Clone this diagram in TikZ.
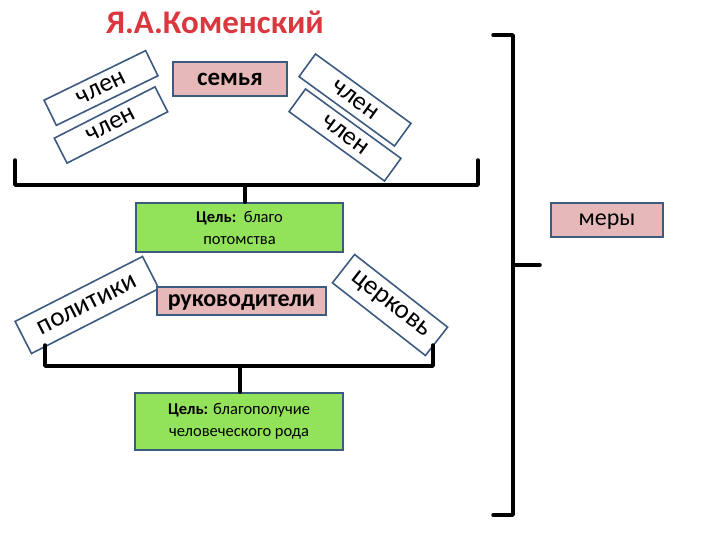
\documentclass[tikz,border=0pt]{standalone}
\usepackage{fontspec}
\setmainfont{Carlito}
\begin{document}
\begin{tikzpicture}[x=1pt,y=-1pt,
  bx/.style={draw=boxc,line width=1.6pt,inner sep=0pt,minimum height=#1,text depth=0pt},
  pinkbox/.style={bx=34,fill=pinkc},
  greenbox/.style={draw=boxc,line width=1.6pt,fill=greenc,align=center,font=\fontsize{16.5}{22}\selectfont},
  tilt/.style={draw=boxc,line width=1.6pt,fill=white,minimum height=28,inner sep=0pt,font=\fontsize{26}{30}\selectfont},
  brk/.style={line width=3.5pt,line cap=round,line join=round}]
\definecolor{boxc}{HTML}{3D5A80}
\definecolor{pinkc}{HTML}{E6B9B8}
\definecolor{greenc}{HTML}{92E35A}
\definecolor{titc}{HTML}{D9383E}
\useasboundingbox (0,0) rectangle (720,540);
\node[font=\bfseries\fontsize{33}{36}\selectfont,text=titc] (title) at (215,22) {Я.А.Коменский};
\node[pinkbox,minimum width=114,font=\bfseries\fontsize{25}{28}\selectfont] (fam) at (230,79) {семья};
\node[tilt,minimum width=113,rotate=26] (m1) at (101,88) {член};
\node[tilt,minimum width=113,rotate=27] (m2) at (111,125) {член};
\node[tilt,minimum width=118,rotate=-36] (m3) at (355,100) {член};
\node[tilt,minimum width=118,rotate=-36] (m4) at (345,135) {член};
\draw[brk] (15,160) -- (15,185) -- (478,185) -- (478,160);
\coordinate (t1) at (245,185);
\node[greenbox,minimum width=207,minimum height=49] (g1) at (239.5,227.5) {\textbf{Цель:}\ \ благо\\ потомства};
\draw[brk] (t1) -- (g1.north -| t1);
\node[pinkbox,minimum width=112,font=\fontsize{24}{28}\selectfont] (mery) at (607,220) {меры};
\draw[brk] (493,35) -- (513,35) -- (513,515) -- (493,515);
\coordinate (t2) at (513,265);
\draw[brk] (t2) -- (540,265);
\node[tilt,minimum width=143,minimum height=36,rotate=27,font=\fontsize{27}{32}\selectfont] (pol) at (87,305) {политики};
\node[bx=28,fill=pinkc,minimum width=169,font=\bfseries\fontsize{24}{28}\selectfont] (ruk) at (241.5,301) {руководители};
\node[tilt,minimum width=118,minimum height=36,rotate=-38,font=\fontsize{27}{32}\selectfont] (cer) at (390,305) {церковь};
\draw[brk] (45,345) -- (45,366) -- (433,366) -- (433,345);
\coordinate (t3) at (240,366);
\node[greenbox,minimum width=208,minimum height=57] (g2) at (239,421.5) {\textbf{Цель:} благополучие\\ человеческого рода};
\draw[brk] (t3) -- (g2.north -| t3);
\end{tikzpicture}
\end{document}
